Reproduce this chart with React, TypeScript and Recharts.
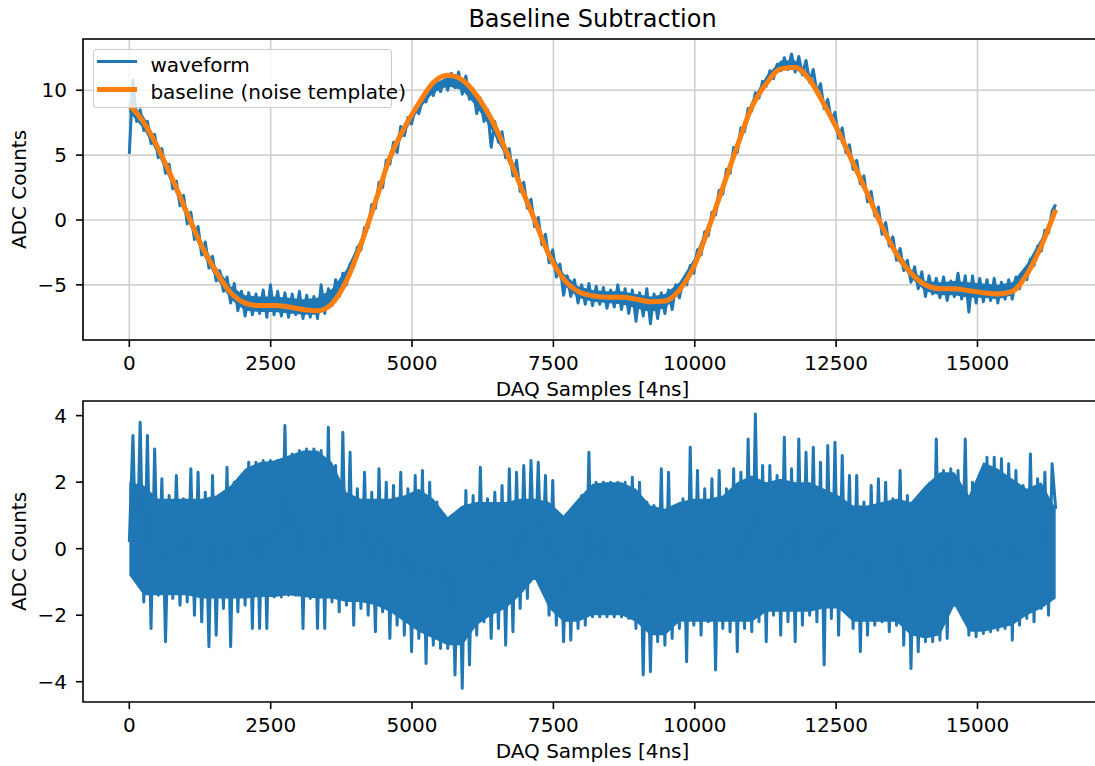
import React from "react";
import {
  ComposedChart,
  Line,
  Area,
  XAxis,
  YAxis,
  CartesianGrid,
  ReferenceArea,
  Legend,
  Label,
} from "recharts";

const FONT = "'DejaVu Sans', Verdana, sans-serif";
const BLUE = "#1f77b4";
const ORANGE = "#ff7f0e";

// stored points are spaced this many DAQ samples apart
const WAVE_STEP = 64;
const BASE_STEP = 256;
const LAST_SAMPLE = 16383;

const sampleTicks = [0, 2500, 5000, 7500, 10000, 12500, 15000];
const rawTicks = [-5, 0, 5, 10];
const residualTicks = [-4, -2, 0, 2, 4];

const xDomain = [-819.15, 17202.15];
const rawDomain = [-9.25, 13.95];
const residualDomain = [-4.61, 4.44];

// raw waveform, min/max alternating every WAVE_STEP samples
const rawWaveform = [
  5.1, 10.8, 7.6, 8.5, 6.9, 7.6, 5.9, 6.6, 4.8, 5.5, 3.6, 4.3, 2.4, 3.0, 1.1, 1.9,
  -0.3, 0.6, -1.5, -0.5, -2.7, -1.7, -3.7, -2.8, -4.7, -3.9, -5.5, -4.4, -6.4, -4.9, -7.0, -5.5,
  -7.4, -5.6, -7.3, -5.7, -7.2, -5.4, -7.5, -5.0, -7.3, -5.5, -7.4, -5.6, -7.5, -5.7, -7.3, -5.5,
  -7.6, -5.8, -7.5, -5.9, -7.6, -5.0, -7.2, -5.3, -6.6, -4.6, -5.9, -4.1, -5.0, -3.4, -3.6, -2.1,
  -2.3, -0.6, -0.6, 1.2, 0.9, 2.9, 2.5, 4.6, 4.3, 6.0, 5.2, 7.2, 6.5, 7.9, 7.4, 8.7,
  8.2, 9.3, 9.1, 10.1, 9.6, 10.5, 9.9, 10.8, 10.0, 11.3, 10.2, 11.4, 9.7, 11.1, 9.3, 10.1,
  8.2, 9.4, 7.6, 8.5, 5.6, 7.6, 6.0, 6.8, 4.8, 5.5, 3.4, 4.6, 2.2, 2.9, 0.9, 1.6,
  -0.5, 0.2, -1.9, -1.1, -3.3, -2.3, -4.4, -3.4, -5.8, -4.3, -5.9, -4.6, -6.4, -5.0, -6.5, -4.9,
  -6.6, -5.1, -6.5, -5.2, -6.8, -5.4, -6.7, -5.0, -6.9, -5.3, -7.2, -5.4, -7.8, -5.6, -7.4, -5.3,
  -8.0, -5.7, -7.6, -5.6, -7.2, -5.4, -6.9, -5.0, -6.0, -4.6, -5.0, -3.5, -4.1, -2.3, -2.7, -0.9,
  -1.2, 0.6, 0.4, 2.3, 2.0, 3.9, 3.6, 5.6, 5.2, 7.1, 6.8, 8.6, 8.4, 9.8, 9.4, 10.7,
  10.3, 11.5, 10.9, 12.0, 11.5, 12.5, 11.6, 12.8, 11.4, 12.6, 11.2, 12.3, 10.6, 11.6, 9.8, 10.5,
  8.6, 9.3, 7.7, 8.3, 6.3, 7.1, 5.2, 5.8, 3.9, 4.6, 2.8, 3.4, 1.4, 2.2, 0.3, 1.0,
  -1.1, -0.2, -2.0, -1.3, -3.1, -2.2, -3.9, -3.1, -4.8, -3.6, -5.3, -4.0, -5.9, -4.3, -5.7, -4.5,
  -6.0, -4.4, -6.2, -4.7, -5.9, -4.1, -6.1, -4.3, -7.1, -4.3, -6.4, -4.5, -6.3, -4.6, -6.2, -4.5,
  -6.4, -4.8, -6.1, -4.6, -6.1, -4.4, -5.3, -4.0, -4.6, -3.0, -3.5, -2.0, -2.4, -0.8, -1.0, 0.7,
  1.2,
];

// dense part of the raw trace, every BASE_STEP samples
const rawCoreLow = [
  8.3, 7.0, 5.0, 2.6, 0.0, -2.5, -4.5, -6.1, -7.0, -7.1, -7.1, -7.2, -7.3, -7.3, -6.6, -4.9,
  -2.2, 1.0, 4.4, 6.7, 8.5, 9.8, 10.3, 10.0, 8.7, 7.0, 4.9, 2.3, -0.4, -3.1, -5.0, -6.0,
  -6.3, -6.4, -6.5, -6.8, -7.1, -6.8, -5.7, -3.9, -1.0, 2.2, 5.4, 8.5, 10.4, 11.6, 11.7, 10.6,
  8.6, 6.4, 4.0, 1.6, -0.9, -3.0, -4.5, -5.5, -5.8, -5.8, -6.0, -6.0, -6.1, -5.8, -4.4, -2.2,
  0.5,
];
const rawCoreHigh = [
  9.2, 8.0, 5.9, 3.5, 0.9, -1.6, -3.6, -5.1, -5.8, -5.9, -5.9, -6.0, -6.1, -6.0, -5.3, -3.8,
  -1.4, 1.9, 5.3, 7.5, 9.2, 10.5, 11.0, 10.9, 9.4, 7.7, 5.6, 3.1, 0.4, -2.3, -4.1, -5.1,
  -5.4, -5.5, -5.5, -5.7, -5.9, -5.7, -4.8, -3.0, -0.2, 3.0, 6.2, 9.2, 11.1, 12.3, 12.3, 11.3,
  9.2, 7.1, 4.7, 2.3, -0.2, -2.3, -3.8, -4.7, -4.8, -4.7, -4.8, -4.9, -5.0, -4.8, -3.4, -1.4,
  1.1,
];

// fitted noise template, one point every BASE_STEP samples
const noiseBaseline = [
  8.9, 7.5, 5.5, 3.1, 0.5, -2.0, -4.0, -5.6, -6.4, -6.6, -6.6, -6.7, -6.9, -7.0, -6.45, -4.7,
  -1.9, 1.4, 4.8, 7.1, 9.0, 10.6, 11.15, 10.8, 9.6, 7.8, 5.4, 2.7, 0.0, -2.7, -4.55, -5.5,
  -5.85, -5.95, -5.95, -6.1, -6.3, -6.25, -5.4, -3.6, -0.7, 2.5, 5.7, 8.7, 10.5, 11.65, 11.75, 10.8,
  8.9, 6.8, 4.4, 2.0, -0.5, -2.6, -4.1, -5.0, -5.3, -5.3, -5.45, -5.6, -5.7, -5.5, -4.2, -2.0,
  0.8,
];

// waveform minus baseline, min/max alternating every WAVE_STEP samples
const residual = [
  0.2, 3.4, -0.9, 3.8, -1.6, 3.4, -2.4, 3.0, -1.4, 2.1, -2.8, 1.6, -1.5, 2.2, -1.7, 1.5,
  -1.6, 2.4, -2.0, 2.3, -2.2, 1.7, -2.95, 2.2, -2.6, 1.6, -1.8, 2.45, -2.95, 2.0, -1.9, 2.2,
  -1.7, 2.6, -2.4, 2.6, -2.4, 2.65, -2.4, 2.65, -1.45, 2.65, -1.45, 3.7, -1.4, 2.85, -1.4, 2.95,
  -2.4, 3.0, -1.5, 3.0, -2.4, 2.95, -2.4, 3.65, -1.6, 2.5, -1.9, 3.5, -1.7, 2.9, -2.3, 1.8,
  -1.8, 2.3, -2.0, 1.7, -2.5, 2.4, -1.9, 2.0, -2.7, 1.9, -2.3, 2.3, -2.6, 1.8, -3.1, 2.2,
  -2.7, 2.35, -3.45, 2.0, -2.9, 1.4, -3.0, 1.0, -3.0, 0.95, -3.8, 1.1, -4.2, 1.75, -3.5, 1.6,
  -2.6, 2.45, -2.2, 1.5, -2.7, 1.7, -2.4, 1.9, -2.9, 2.4, -2.5, 2.3, -1.8, 2.5, -1.5, 2.65,
  -0.9, 2.6, -1.0, 2.2, -2.0, 2.05, -2.3, 1.0, -2.8, 1.0, -2.75, 1.2, -2.4, 1.6, -2.3, 2.9,
  -2.05, 2.0, -2.05, 2.0, -2.05, 2.0, -2.05, 2.0, -2.05, 2.0, -2.1, 2.15, -2.4, 2.0, -3.8, 1.4,
  -3.7, 1.3, -2.8, 2.4, -2.9, 2.3, -2.7, 1.1, -2.4, 1.5, -3.4, 3.05, -2.3, 2.35, -2.6, 1.8,
  -2.2, 2.1, -3.65, 2.35, -2.4, 1.8, -2.5, 2.4, -3.1, 2.3, -2.4, 3.3, -2.5, 4.05, -2.2, 2.5,
  -2.8, 2.5, -2.0, 2.2, -2.6, 3.35, -2.2, 2.4, -2.8, 3.3, -2.3, 2.9, -2.0, 3.05, -2.2, 2.6,
  -3.5, 3.1, -2.1, 3.2, -2.6, 2.8, -1.9, 2.2, -2.4, 2.2, -3.1, 1.4, -2.6, 1.9, -2.3, 2.1,
  -2.2, 2.0, -2.5, 1.5, -2.3, 2.35, -2.9, 1.6, -3.6, 1.4, -3.1, 1.7, -2.8, 1.95, -2.8, 3.3,
  -2.75, 2.35, -2.7, 2.4, -1.7, 2.35, -1.7, 3.3, -2.6, 2.0, -2.65, 1.6, -2.55, 2.75, -2.5, 2.75,
  -2.45, 2.7, -2.4, 2.55, -2.75, 2.35, -2.3, 1.9, -2.1, 2.85, -2.2, 2.1, -1.8, 2.3, -2.0, 2.55,
  1.2,
];

// dense part of the residual, every BASE_STEP samples
const residualCoreLow = [
  -0.8, -1.4, -1.4, -1.4, -1.4, -1.5, -1.5, -1.5, -1.5, -1.45, -1.45, -1.4, -1.45, -1.5, -1.5, -1.6,
  -1.6, -1.7, -1.9, -2.2, -2.5, -2.7, -2.9, -2.9, -2.3, -2.0, -1.8, -1.4, -0.9, -1.8, -2.2, -2.2,
  -2.0, -2.0, -2.0, -2.2, -2.6, -2.6, -2.2, -2.2, -2.2, -2.2, -2.2, -2.2, -1.9, -1.9, -1.9, -1.9,
  -1.8, -1.8, -2.2, -2.2, -2.2, -2.2, -2.6, -2.7, -2.6, -1.7, -2.5, -2.5, -2.4, -2.3, -2.0, -1.8,
  -1.5,
];
const residualCoreHigh = [
  2.0, 1.9, 1.5, 1.5, 1.5, 1.5, 1.6, 1.9, 2.4, 2.6, 2.65, 2.8, 2.95, 2.95, 2.6, 1.7,
  1.5, 1.5, 1.5, 1.6, 1.8, 1.5, 0.95, 1.3, 1.4, 1.4, 1.4, 1.5, 1.5, 1.4, 1.0, 1.5,
  1.95, 2.0, 2.0, 1.8, 1.3, 1.2, 1.4, 1.5, 1.5, 1.6, 2.0, 2.2, 2.0, 2.1, 2.0, 2.0,
  1.8, 1.6, 1.3, 1.3, 1.4, 1.5, 1.4, 1.9, 2.3, 2.3, 1.6, 2.6, 2.4, 2.1, 1.8, 2.0,
  1.2,
];

const legendOrder = ["waveform", "baseline (noise template)"];

const toRows = (values: number[], step: number) =>
  values.map((value, i) => ({ sample: Math.min(i * step, LAST_SAMPLE), value }));

const toBand = (low: number[], high: number[], step: number) =>
  low.map((lo, i) => ({ sample: Math.min(i * step, LAST_SAMPLE), band: [lo, high[i]] }));

const rawRows = toRows(rawWaveform, WAVE_STEP);
const rawBand = toBand(rawCoreLow, rawCoreHigh, BASE_STEP);
const baselineRows = toRows(noiseBaseline, BASE_STEP);
const residualRows = toRows(residual, WAVE_STEP);
const residualBand = toBand(residualCoreLow, residualCoreHigh, BASE_STEP);

const fmtTick = (v: number) => (v < 0 ? `\u2212${Math.abs(v)}` : `${v}`);

const tickStyle = { fill: "#000", fontSize: 20, fontFamily: FONT };
const tickLine = { stroke: "#000", strokeWidth: 1.6 };
const labelStyle = { fontSize: 20, fontFamily: FONT, fill: "#000" };

const renderLegend = (props: any) => {
  const items = [...(props.payload || [])]
    .filter((p: any) => legendOrder.includes(p.value))
    .sort((a: any, b: any) => legendOrder.indexOf(a.value) - legendOrder.indexOf(b.value));
  return (
    <div
      style={{
        position: "relative",
        boxSizing: "border-box",
        width: 299.5,
        height: 59,
        border: "1.6px solid #cccccc",
        borderRadius: 3,
        background: "rgba(255,255,255,0.8)",
        fontFamily: FONT,
        fontSize: 20,
        lineHeight: "20px",
        color: "#000",
      }}
    >
      {items.map((entry: any, i: number) => {
        const thick = entry.value === "waveform" ? 3 : 5;
        return (
          <div key={entry.value} style={{ position: "absolute", left: 0, top: 2.2 + i * 27.7, height: 20, width: "100%" }}>
            <div
              style={{
                position: "absolute",
                left: 3.9,
                top: 10 - thick / 2,
                width: 40,
                height: thick,
                background: entry.color,
              }}
            />
            <span style={{ position: "absolute", left: 56.9, top: 3.1, whiteSpace: "nowrap" }}>{entry.value}</span>
          </div>
        );
      })}
    </div>
  );
};

function SampleAxis({ height, labelOffset }: { height: number; labelOffset: number }) {
  return (
    <XAxis
      type="number"
      dataKey="sample"
      domain={xDomain}
      ticks={sampleTicks}
      allowDataOverflow
      interval={0}
      height={height}
      tickSize={7}
      tickMargin={9}
      axisLine={false}
      tickLine={tickLine}
      tick={tickStyle}
    >
      <Label value="DAQ Samples [4ns]" position="insideBottom" offset={labelOffset} style={labelStyle} />
    </XAxis>
  );
}

export default function App() {
  return (
    <div
      style={{
        position: "absolute",
        left: 0,
        top: 0,
        width: 1095,
        height: 766,
        overflow: "hidden",
        background: "#fff",
      }}
    >
      <svg width={1095} height={40} style={{ position: "absolute", left: 0, top: 0 }}>
        <text x={592.5} y={27.3} textAnchor="middle" fontSize={24} fontFamily={FONT} fill="#000">
          Baseline Subtraction
        </text>
      </svg>

      {/* raw waveform with the fitted baseline */}
      <div style={{ position: "absolute", left: 0, top: 0 }}>
        <ComposedChart width={1102} height={401} margin={{ top: 39, right: 0, bottom: 0, left: 0 }}>
          <CartesianGrid stroke="#d0d0d0" strokeWidth={1.6} />
          <XAxis
            type="number"
            dataKey="sample"
            domain={xDomain}
            ticks={sampleTicks}
            allowDataOverflow
            interval={0}
            height={61}
            tickSize={7}
            tickMargin={9}
            axisLine={false}
            tickLine={tickLine}
            tick={tickStyle}
          >
            <Label value="DAQ Samples [4ns]" position="insideBottom" offset={5.4} style={labelStyle} />
          </XAxis>
          <YAxis
            type="number"
            domain={rawDomain}
            ticks={rawTicks}
            allowDataOverflow
            interval={0}
            width={83}
            tickSize={7}
            tickMargin={9}
            axisLine={false}
            tickLine={tickLine}
            tick={tickStyle}
            tickFormatter={fmtTick}
          >
            <Label
              value="ADC Counts"
              angle={-90}
              position="insideLeft"
              offset={19.4}
              style={{ ...labelStyle, textAnchor: "middle" }}
            />
          </YAxis>
          <Area
            data={rawBand}
            dataKey="band"
            type="linear"
            stroke="none"
            fill={BLUE}
            fillOpacity={1}
            legendType="none"
            dot={false}
            activeDot={false}
            isAnimationActive={false}
          />
          <Line
            name="waveform"
            data={rawRows}
            dataKey="value"
            type="linear"
            stroke={BLUE}
            strokeWidth={3}
            strokeLinejoin="round"
            dot={false}
            activeDot={false}
            isAnimationActive={false}
          />
          <Line
            name="baseline (noise template)"
            data={baselineRows}
            dataKey="value"
            type="monotone"
            stroke={ORANGE}
            strokeWidth={5}
            dot={false}
            activeDot={false}
            isAnimationActive={false}
          />
          <ReferenceArea
            x1={xDomain[0]}
            x2={xDomain[1]}
            y1={rawDomain[0]}
            y2={rawDomain[1]}
            fill="none"
            stroke="#000"
            strokeWidth={1.6}
            ifOverflow="visible"
          />
          <Legend
            layout="vertical"
            align="center"
            verticalAlign="middle"
            content={renderLegend}
            wrapperStyle={{ left: 92.5, top: 48.5, width: 300, margin: 0, padding: 0 }}
          />
        </ComposedChart>
      </div>

      {/* residual after subtraction */}
      <div style={{ position: "absolute", left: 0, top: 362 }}>
        <ComposedChart width={1102} height={404} margin={{ top: 39, right: 0, bottom: 0, left: 0 }}>
          <XAxis
            type="number"
            dataKey="sample"
            domain={xDomain}
            ticks={sampleTicks}
            allowDataOverflow
            interval={0}
            height={64}
            tickSize={7}
            tickMargin={9}
            axisLine={false}
            tickLine={tickLine}
            tick={tickStyle}
          >
            <Label value="DAQ Samples [4ns]" position="insideBottom" offset={8.4} style={labelStyle} />
          </XAxis>
          <YAxis
            type="number"
            domain={residualDomain}
            ticks={residualTicks}
            allowDataOverflow
            interval={0}
            width={83}
            tickSize={7}
            tickMargin={9}
            axisLine={false}
            tickLine={tickLine}
            tick={tickStyle}
            tickFormatter={fmtTick}
          >
            <Label
              value="ADC Counts"
              angle={-90}
              position="insideLeft"
              offset={19.4}
              style={{ ...labelStyle, textAnchor: "middle" }}
            />
          </YAxis>
          <Area
            data={residualBand}
            dataKey="band"
            type="linear"
            stroke="none"
            fill={BLUE}
            fillOpacity={1}
            legendType="none"
            dot={false}
            activeDot={false}
            isAnimationActive={false}
          />
          <Line
            data={residualRows}
            dataKey="value"
            type="linear"
            stroke={BLUE}
            strokeWidth={3}
            strokeLinejoin="round"
            dot={false}
            activeDot={false}
            isAnimationActive={false}
          />
          <ReferenceArea
            x1={xDomain[0]}
            x2={xDomain[1]}
            y1={residualDomain[0]}
            y2={residualDomain[1]}
            fill="none"
            stroke="#000"
            strokeWidth={1.6}
            ifOverflow="visible"
          />
        </ComposedChart>
      </div>
    </div>
  );
}
